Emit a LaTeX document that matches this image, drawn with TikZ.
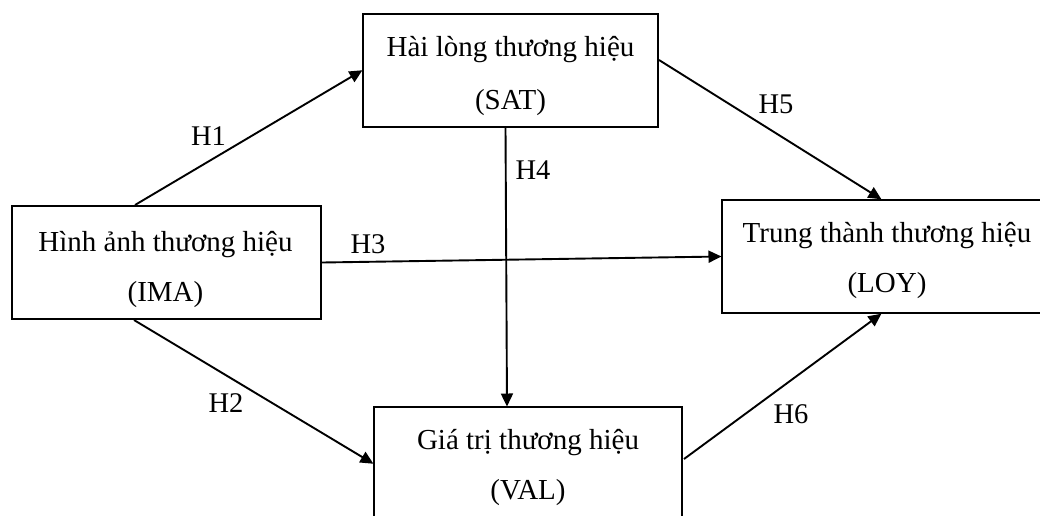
\documentclass[tikz,border=0pt]{standalone}
\usepackage{fontspec}
\setmainfont{Liberation Serif}
\usetikzlibrary{arrows.meta,calc}

\tikzset{
  box/.style={draw=black, line width=2pt, rectangle, inner sep=0pt,
              minimum height=113pt},
  txt/.style={anchor=base, inner sep=0pt, font=\fontsize{29}{32}\selectfont},
  hyp/.style={anchor=base, inner sep=0pt, font=\fontsize{28.5}{32}\selectfont},
  link/.style={line width=1.9pt, -{Triangle[length=13pt,width=12pt]}, shorten >=-0.5pt}
}

\begin{document}
\begin{tikzpicture}[x=1pt, y=-1pt]
\clip (0,0) rectangle (1040,515);
\fill[white] (0,0) rectangle (1040,515);

% construct boxes
\node[box, minimum width=309pt] (ima) at (166.5,262.5) {};
\node[box, minimum width=295pt] (sat) at (510.5,70.5) {};
\node[box, minimum width=308pt] (val) at (528,463.5) {};
\node[box, minimum width=330pt] (loy) at (887,256.5) {};

% construct names
\node[txt] (imaA) at ($(ima.north)+(-1,46)$) {Hình ảnh thương hiệu};
\node[txt] (imaB) at ($(ima.north)+(-1,96)$) {(IMA)};
\node[txt] (satA) at ($(sat.north)+(0,43)$) {Hài lòng thương hiệu};
\node[txt] (satB) at ($(sat.north)+(0,96)$) {(SAT)};
\node[txt] (valA) at ($(val.north)+(0,43)$) {Giá trị thương hiệu};
\node[txt] (valB) at ($(val.north)+(0,93)$) {(VAL)};
\node[txt] (loyA) at ($(loy.north)+(0,43)$) {Trung thành thương hiệu};
\node[txt] (loyB) at ($(loy.north)+(0,93)$) {(LOY)};

% hypothesised paths
\draw[link] ($(ima.north west)+(124,0)$) -- (sat.west);
\draw[link] ($(ima.south west)+(123,0)$) -- (val.west);
\draw[link] (ima.east) -- (loy.west);
\draw[link] ($(sat.south)+(-5,0)$) -- ($(val.north)+(-21,0)$);
\draw[link] ($(sat.east)+(0,-10.5)$) -- ($(loy.north west)+(160,0)$);
\draw[link] ($(val.east)+(1,-4.5)$) -- ($(loy.south west)+(160,0)$);

% path labels
\node[hyp] (h1) at (208.5,145) {H1};
\node[hyp] (h2) at (226,412) {H2};
\node[hyp] (h3) at (368,253) {H3};
\node[hyp] (h4) at (533,179) {H4};
\node[hyp] (h5) at (776,113) {H5};
\node[hyp] (h6) at (791,423) {H6};
\end{tikzpicture}
\end{document}
